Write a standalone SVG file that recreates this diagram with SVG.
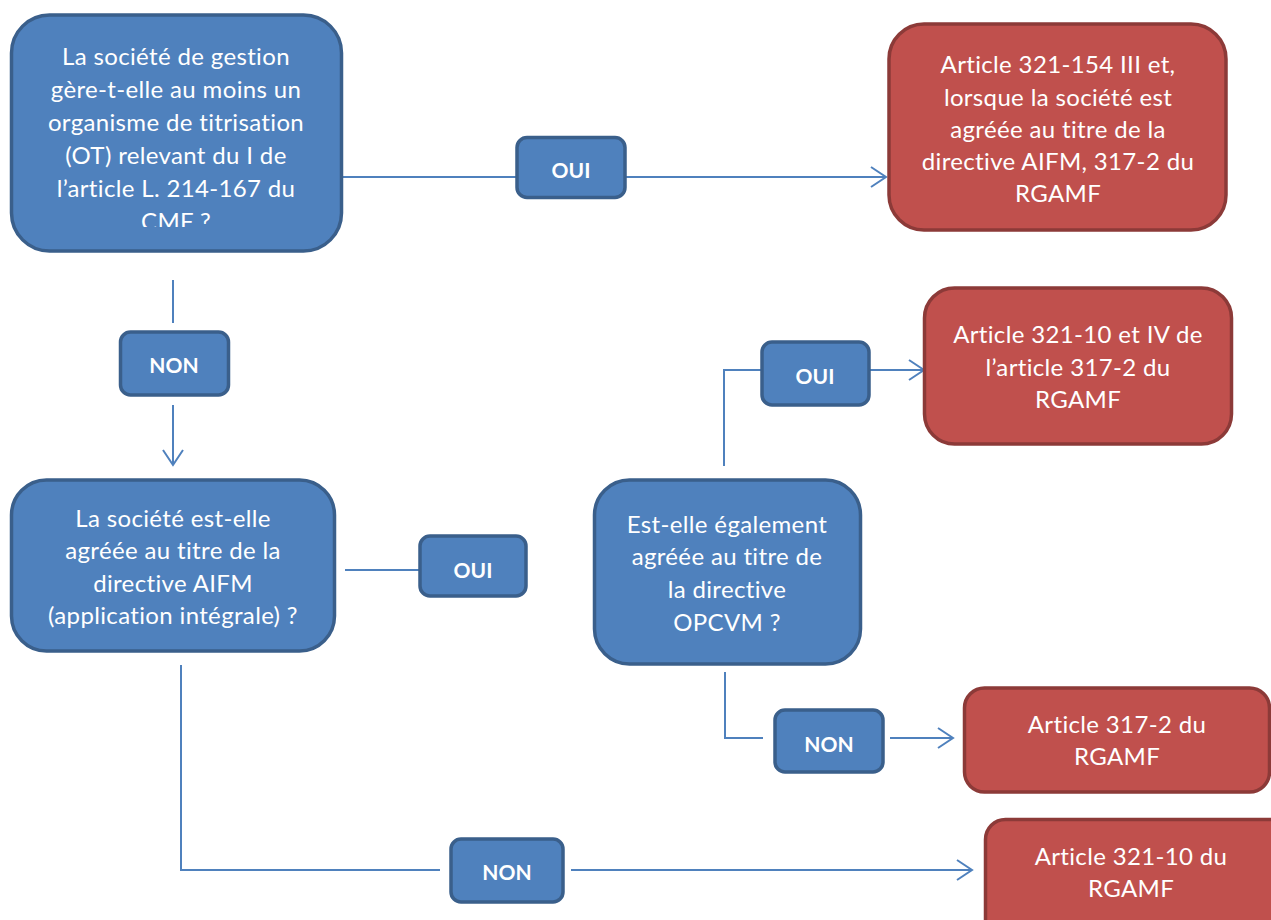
<svg xmlns="http://www.w3.org/2000/svg" width="1271" height="920" viewBox="0 0 1271 920">
<style>
.q{fill:#4f81bd;stroke:#3a5f8b;stroke-width:3.5}
.r{fill:#c0504d;stroke:#8c3a38;stroke-width:3.5}
.t{font-family:Lato,"Liberation Sans",sans-serif;font-size:24px;letter-spacing:0.35px;fill:#fff;text-anchor:middle}
.b{font-family:Lato,"Liberation Sans",sans-serif;font-size:21px;font-weight:bold;fill:#fff;text-anchor:middle}
.c{stroke:#4f81bd;stroke-width:2;fill:none}
</style>
<defs>
<marker id="ar" markerUnits="userSpaceOnUse" markerWidth="18" markerHeight="24" refX="16" refY="11" orient="auto">
<path d="M1,1 L16,11 L1,21" fill="none" stroke="#4f81bd" stroke-width="2"/>
</marker>
<clipPath id="clip1"><rect x="0" y="0" width="360" height="227"/></clipPath>
</defs>
<g id="connectors">
<path class="c" d="M343,177 H517"/>
<path class="c" d="M626,177 H886" marker-end="url(#ar)"/>
<path class="c" d="M173,280 V323"/>
<path class="c" d="M173,405 V465" marker-end="url(#ar)"/>
<path class="c" d="M345,570 H420"/>
<path class="c" d="M724,466 V370 H761"/>
<path class="c" d="M870,370 H924" marker-end="url(#ar)"/>
<path class="c" d="M725,672 V738 H763"/>
<path class="c" d="M890,738 H953" marker-end="url(#ar)"/>
<path class="c" d="M181,665 V870 H440"/>
<path class="c" d="M571,870 H972" marker-end="url(#ar)"/>
</g>
<g id="q1">
<rect class="q" x="11.5" y="15" width="330" height="236" rx="38"/>
<g clip-path="url(#clip1)">
<text class="t" x="176" y="65">La société de gestion</text>
<text class="t" x="176" y="98">gère-t-elle au moins un</text>
<text class="t" x="176" y="131">organisme de titrisation</text>
<text class="t" x="176" y="164">(OT) relevant du I de</text>
<text class="t" x="176" y="197">l’article L. 214-167 du</text>
<text class="t" x="176" y="230">CMF ?</text>
</g>
</g>
<g id="oui1">
<rect class="q" x="517" y="137.5" width="108" height="60" rx="10"/>
<text class="b" x="571" y="178">OUI</text>
</g>
<g id="r1">
<rect class="r" x="889" y="24" width="337" height="206" rx="35"/>
<text class="t" x="1058" y="73">Article 321-154 III et,</text>
<text class="t" x="1058" y="106">lorsque la société est</text>
<text class="t" x="1058" y="138">agréée au titre de la</text>
<text class="t" x="1058" y="170">directive AIFM, 317-2 du</text>
<text class="t" x="1058" y="202">RGAMF</text>
</g>
<g id="non1">
<rect class="q" x="120.5" y="332" width="108" height="63" rx="10"/>
<text class="b" x="174" y="373">NON</text>
</g>
<g id="q2">
<rect class="q" x="11.5" y="480" width="323" height="171" rx="35"/>
<text class="t" x="173" y="527">La société est-elle</text>
<text class="t" x="173" y="559">agréée au titre de la</text>
<text class="t" x="173" y="592">directive AIFM</text>
<text class="t" x="173" y="624">(application intégrale) ?</text>
</g>
<g id="oui2">
<rect class="q" x="420" y="536" width="106" height="60" rx="10"/>
<text class="b" x="473" y="578">OUI</text>
</g>
<g id="q3">
<rect class="q" x="594.5" y="480" width="266" height="184" rx="35"/>
<text class="t" x="727" y="533">Est-elle également</text>
<text class="t" x="727" y="565">agréée au titre de</text>
<text class="t" x="727" y="598">la directive</text>
<text class="t" x="727" y="631">OPCVM ?</text>
</g>
<g id="oui3">
<rect class="q" x="762" y="342" width="107" height="63" rx="10"/>
<text class="b" x="815" y="384">OUI</text>
</g>
<g id="r2">
<rect class="r" x="924.5" y="288" width="307" height="156" rx="30"/>
<text class="t" x="1078" y="343">Article 321-10 et IV de</text>
<text class="t" x="1078" y="376">l’article 317-2 du</text>
<text class="t" x="1078" y="408">RGAMF</text>
</g>
<g id="non2">
<rect class="q" x="775" y="710" width="108" height="62" rx="10"/>
<text class="b" x="829" y="752">NON</text>
</g>
<g id="r3">
<rect class="r" x="964.5" y="688" width="305" height="104" rx="20"/>
<text class="t" x="1117" y="733">Article 317-2 du</text>
<text class="t" x="1117" y="765">RGAMF</text>
</g>
<g id="non3">
<rect class="q" x="451" y="839" width="112" height="63" rx="10"/>
<text class="b" x="507" y="880">NON</text>
</g>
<g id="r4">
<rect class="r" x="985.5" y="819.5" width="310" height="130" rx="20"/>
<text class="t" x="1131" y="865">Article 321-10 du</text>
<text class="t" x="1131" y="897">RGAMF</text>
</g>
</svg>
